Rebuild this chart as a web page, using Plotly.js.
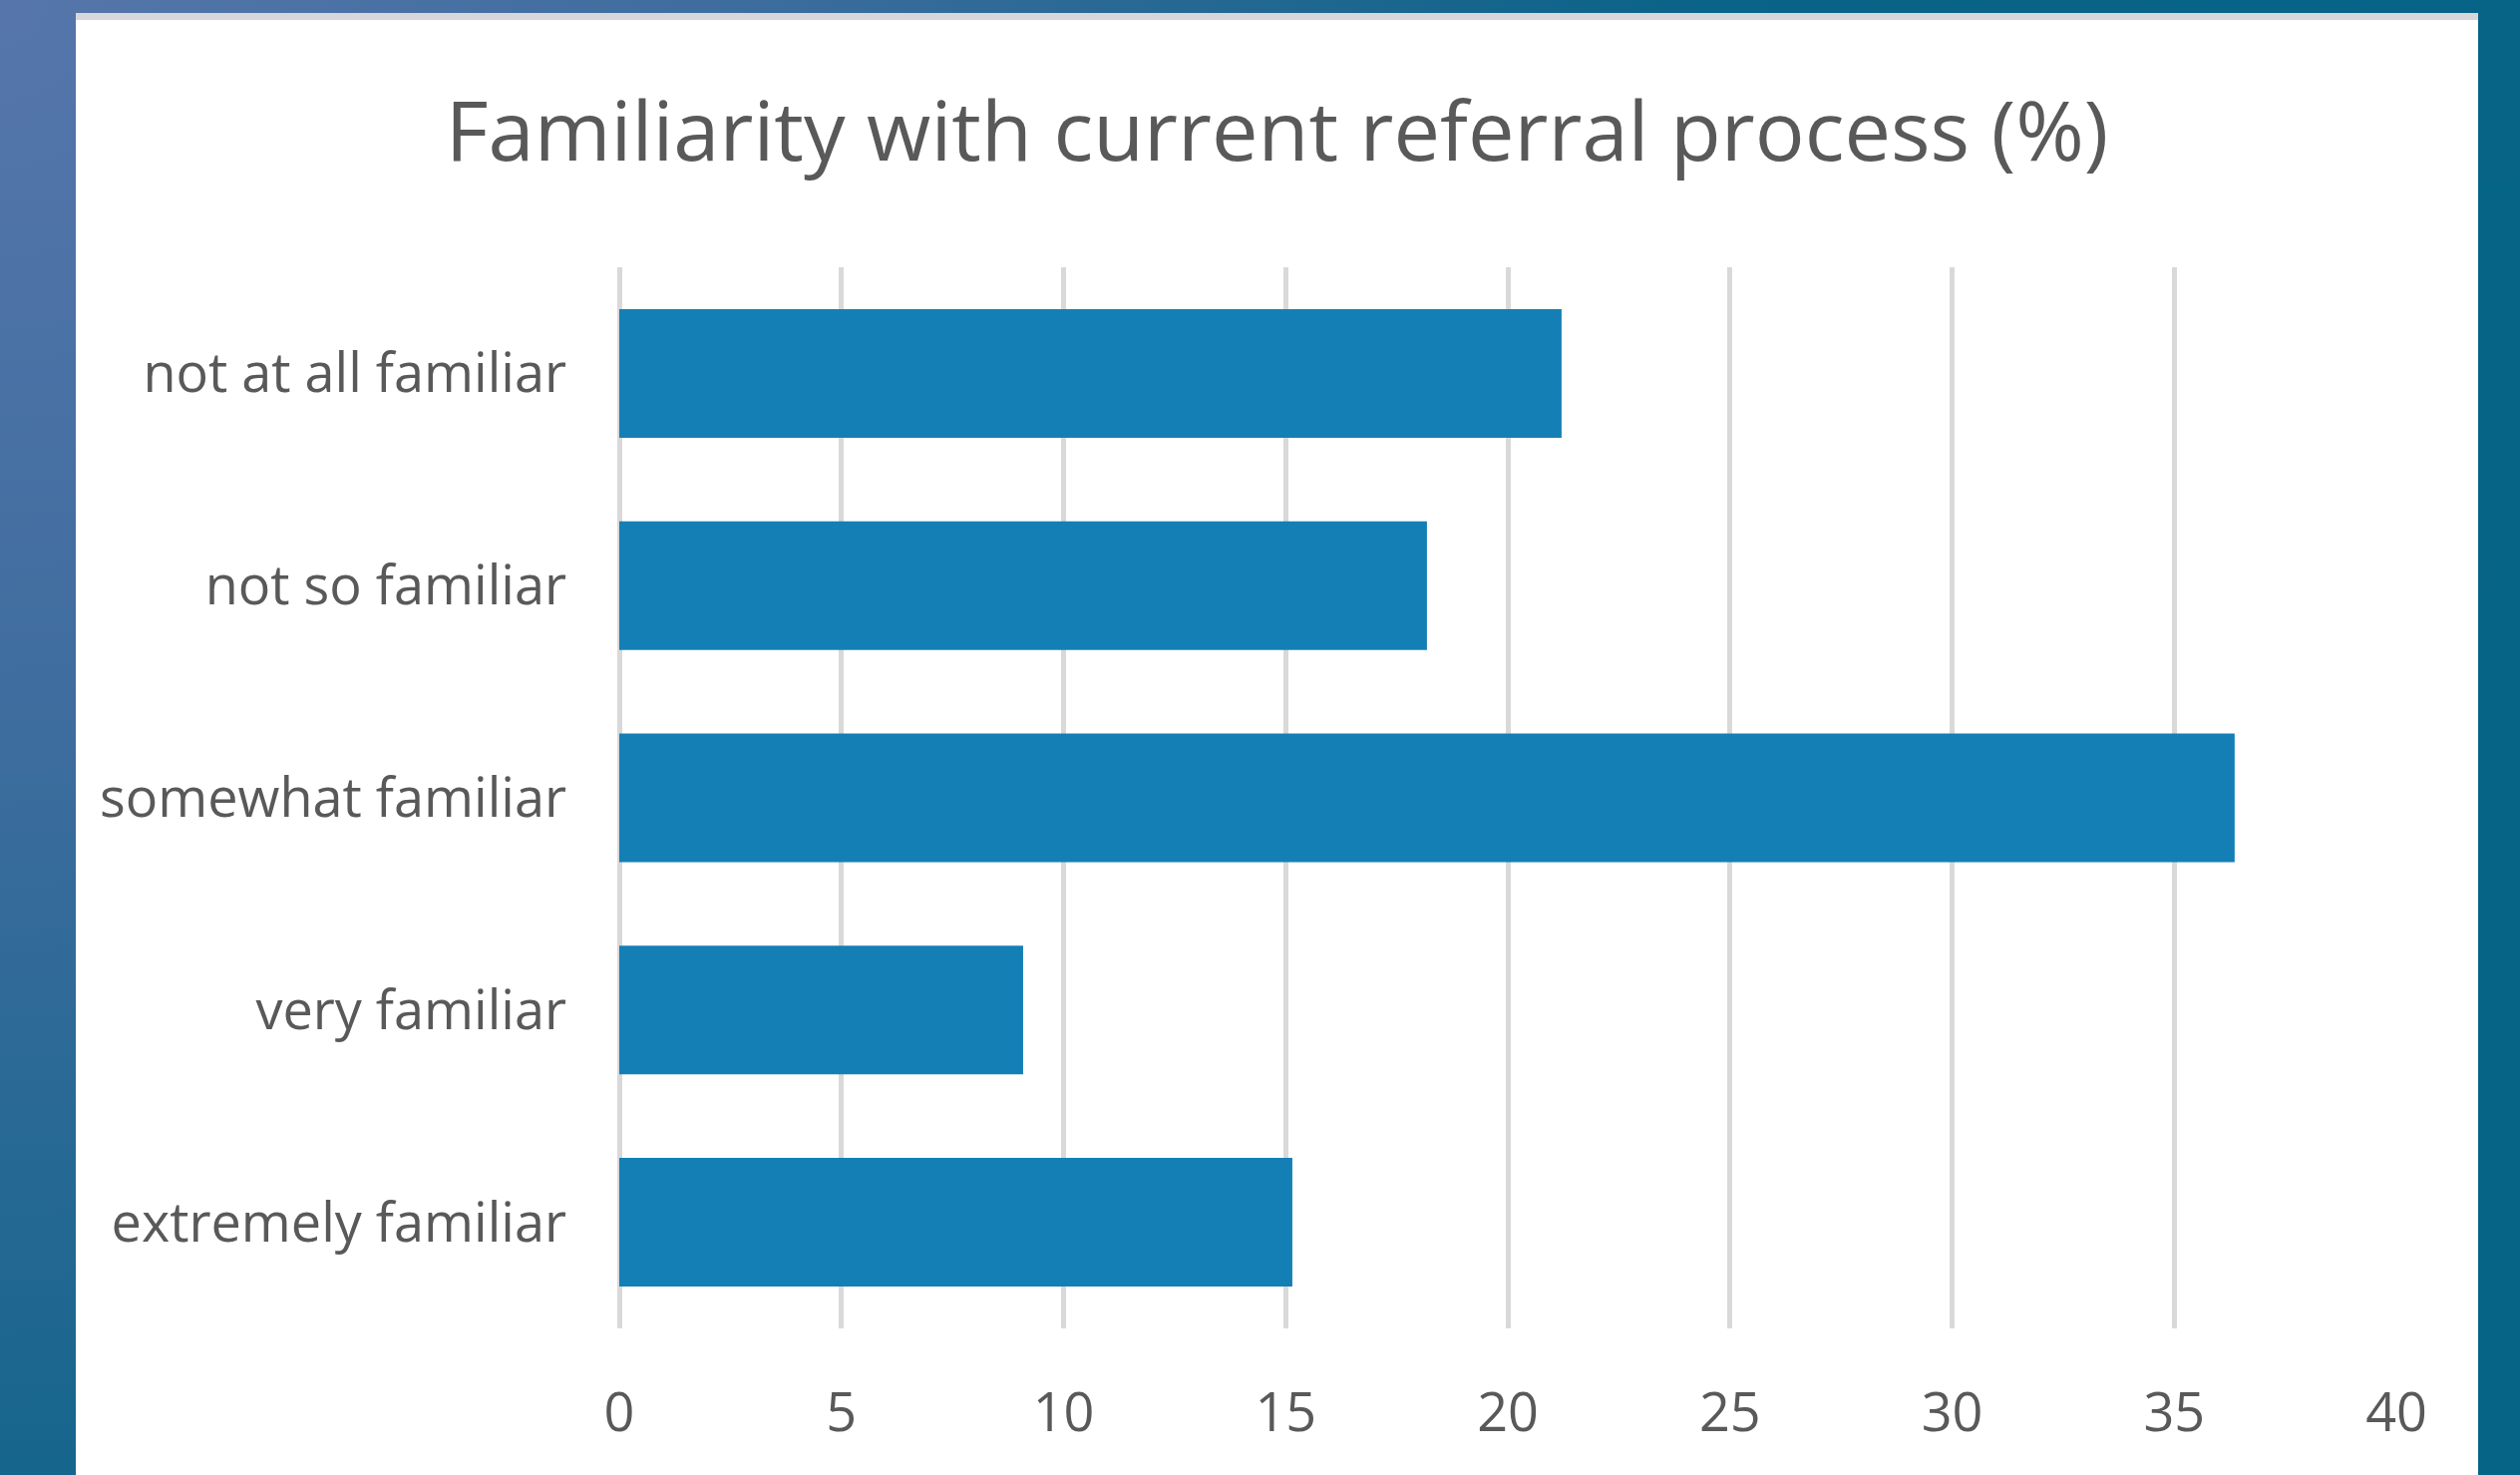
<!DOCTYPE html>
<html>
<head>
<meta charset="utf-8">
<script src="https://cdn.plot.ly/plotly-3.0.1.min.js"></script>
<style>
  html, body { margin: 0; padding: 0; width: 2527px; height: 1479px; overflow: hidden; }
  body { background: radial-gradient(circle at 0px 0px, #5676ab 0px, #3f6d9f 700px, #0a6388 1700px, #066487 2600px); }
  #strip { position: absolute; left: 76px; top: 13px; width: 2409px; height: 7px; background: #d6d7da; }
  #chart { position: absolute; left: 76px; top: 20px; width: 2409px; height: 1459px; background: #ffffff; }
</style>
</head>
<body>
<div id="strip"></div>
<div id="chart"></div>
<script>
const chartTitle = "Familiarity with current referral process (%)";
const categories = ["not at all familiar", "not so familiar", "somewhat familiar", "very familiar", "extremely familiar"];
const percentages = [21.21, 18.18, 36.36, 9.09, 15.15];
const xTickValues = [0, 5, 10, 15, 20, 25, 30, 35, 40];

const textColor = "#595959";
const fontFamily = "'Open Sans', 'Noto Sans', sans-serif";

const trace = {
  type: "bar",
  orientation: "h",
  x: percentages,
  y: categories,
  marker: { color: "#147fb5", line: { width: 0 } },
  hoverinfo: "x+y"
};

const layout = {
  width: 2409,
  height: 1459,
  paper_bgcolor: "#ffffff",
  plot_bgcolor: "#ffffff",
  margin: { l: 545, r: 82, t: 248, b: 147 },
  bargap: 0.394,
  showlegend: false,
  title: {
    text: chartTitle,
    font: { family: fontFamily, size: 83, color: textColor },
    x: 0.5, xanchor: "center",
    xref: "container",
    y: 1 - 112 / 1459, yanchor: "middle", yref: "container"
  },
  xaxis: {
    range: [0, 40],
    tickvals: xTickValues,
    ticktext: xTickValues.map(String),
    showgrid: true,
    gridcolor: "#d9d9d9",
    gridwidth: 5,
    zeroline: true,
    zerolinecolor: "#d9d9d9",
    zerolinewidth: 5,
    showline: false,
    ticks: "",
    ticklabelstandoff: 48,
    tickfont: { family: fontFamily, size: 54, color: textColor },
    fixedrange: true
  },
  yaxis: {
    type: "category",
    categoryorder: "array",
    categoryarray: categories,
    autorange: "reversed",
    showgrid: false,
    zeroline: false,
    showline: false,
    ticks: "",
    ticklabelstandoff: 52,
    tickfont: { family: fontFamily, size: 54, color: textColor },
    fixedrange: true
  }
};

Plotly.newPlot("chart", [trace], layout, { displayModeBar: false, staticPlot: true });
</script>
</body>
</html>
